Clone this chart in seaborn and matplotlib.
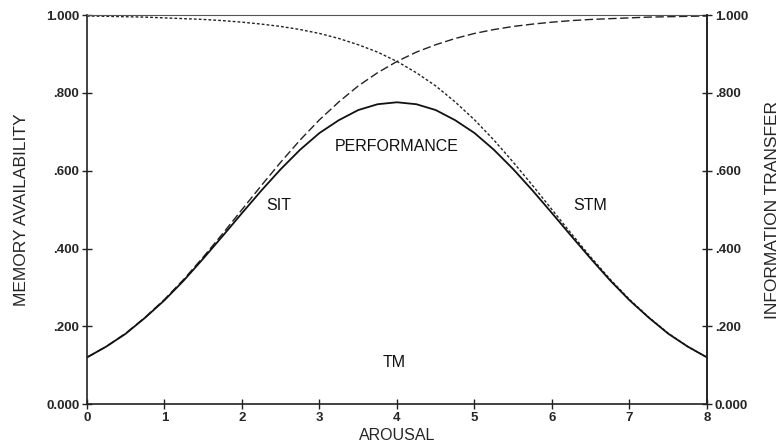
import numpy as np
import pandas as pd
import matplotlib
matplotlib.use("Agg")
import matplotlib.pyplot as plt
import seaborn as sns

# Data
arousal = [0, 0.25, 0.5, 0.75, 1, 1.25, 1.5, 1.75, 2, 2.25, 2.5, 2.75, 3, 3.25, 3.5, 3.75,
           4, 4.25, 4.5, 4.75, 5, 5.25, 5.5, 5.75, 6, 6.25, 6.5, 6.75, 7, 7.25, 7.5, 7.75, 8]
sit = [0.120, 0.148, 0.182, 0.223, 0.269, 0.321, 0.378, 0.438, 0.500, 0.562, 0.622, 0.679,
       0.731, 0.777, 0.818, 0.852, 0.881, 0.905, 0.924, 0.940, 0.953, 0.963, 0.971, 0.977,
       0.982, 0.986, 0.989, 0.991, 0.993, 0.995, 0.996, 0.997, 0.998]
stm = [0.998, 0.997, 0.996, 0.995, 0.993, 0.991, 0.989, 0.986, 0.982, 0.977, 0.971, 0.963,
       0.953, 0.940, 0.924, 0.905, 0.881, 0.852, 0.818, 0.777, 0.731, 0.679, 0.622, 0.562,
       0.500, 0.438, 0.378, 0.321, 0.269, 0.223, 0.182, 0.148, 0.120]
performance = [0.120, 0.148, 0.181, 0.222, 0.267, 0.318, 0.374, 0.432, 0.491, 0.549, 0.604,
               0.654, 0.697, 0.730, 0.756, 0.771, 0.776, 0.771, 0.756, 0.730, 0.697, 0.654,
               0.604, 0.549, 0.491, 0.432, 0.374, 0.318, 0.267, 0.222, 0.181, 0.148, 0.120]

x_ticks = [0, 1, 2, 3, 4, 5, 6, 7, 8]
y_ticks = [0.0, 0.2, 0.4, 0.6, 0.8, 1.0]
y_tick_labels = ["0.000", ".200", ".400", ".600", ".800", "1.000"]

curve_labels = ["PERFORMANCE", "SIT", "STM", "TM"]
curve_label_x = [3.99, 2.48, 6.49, 3.97]
curve_label_y = [0.663, 0.51, 0.51, 0.108]

sns.set_style("ticks")
plt.rcParams["font.family"] = ["Liberation Sans", "DejaVu Sans"]

df = pd.DataFrame({"arousal": arousal, "sit": sit, "stm": stm, "perf": performance})

fig = plt.figure(figsize=(7.8, 4.46), dpi=100)
ax = fig.add_axes([0.1115, 0.094, 0.7949, 0.872])

sns.lineplot(data=df, x="arousal", y="sit", ax=ax, color="#222222", lw=1.0,
             linestyle=(0, (6, 2.5)))
sns.lineplot(data=df, x="arousal", y="stm", ax=ax, color="#222222", lw=1.0,
             linestyle=(0, (2, 1.5)))
sns.lineplot(data=df, x="arousal", y="perf", ax=ax, color="#111111", lw=1.3)

ax.set_xlim(0, 8)
ax.set_ylim(0, 1)
ax.set_xticks(x_ticks)
ax.set_xticklabels([str(t) for t in x_ticks])
ax.set_yticks(y_ticks)
ax.set_yticklabels(y_tick_labels)
ax.tick_params(direction="inout", length=7, width=1.0, labelsize=9.5, pad=2, color="#222222")
for lab in ax.get_xticklabels() + ax.get_yticklabels():
    lab.set_fontweight("bold")

for side in ["left", "right", "bottom"]:
    ax.spines[side].set_linewidth(1.2)
    ax.spines[side].set_color("#222222")
ax.spines["top"].set_visible(True)
ax.spines["top"].set_linewidth(0.8)
ax.spines["top"].set_color("#555555")

ax.set_xlabel("AROUSAL", fontsize=11.5, labelpad=3)
ax.set_ylabel("MEMORY AVAILABILITY", fontsize=12.5, labelpad=12)

ax2 = ax.twinx()
ax2.set_ylim(0, 1)
ax2.set_yticks(y_ticks)
ax2.set_yticklabels(y_tick_labels)
ax2.tick_params(direction="inout", length=7, width=1.0, labelsize=9.5, pad=2, color="#222222")
for lab in ax2.get_yticklabels():
    lab.set_fontweight("bold")
ax2.spines["right"].set_linewidth(1.2)
ax2.spines["right"].set_color("#222222")
for side in ["left", "top", "bottom"]:
    ax2.spines[side].set_visible(False)
ax2.set_ylabel("INFORMATION TRANSFER", fontsize=12.5, labelpad=12, rotation=90)

for t, tx, ty in zip(curve_labels, curve_label_x, curve_label_y):
    ax.text(tx, ty, t, fontsize=11.5, ha="center", va="center", color="#111111")

fig.savefig("out.png", dpi=100)
